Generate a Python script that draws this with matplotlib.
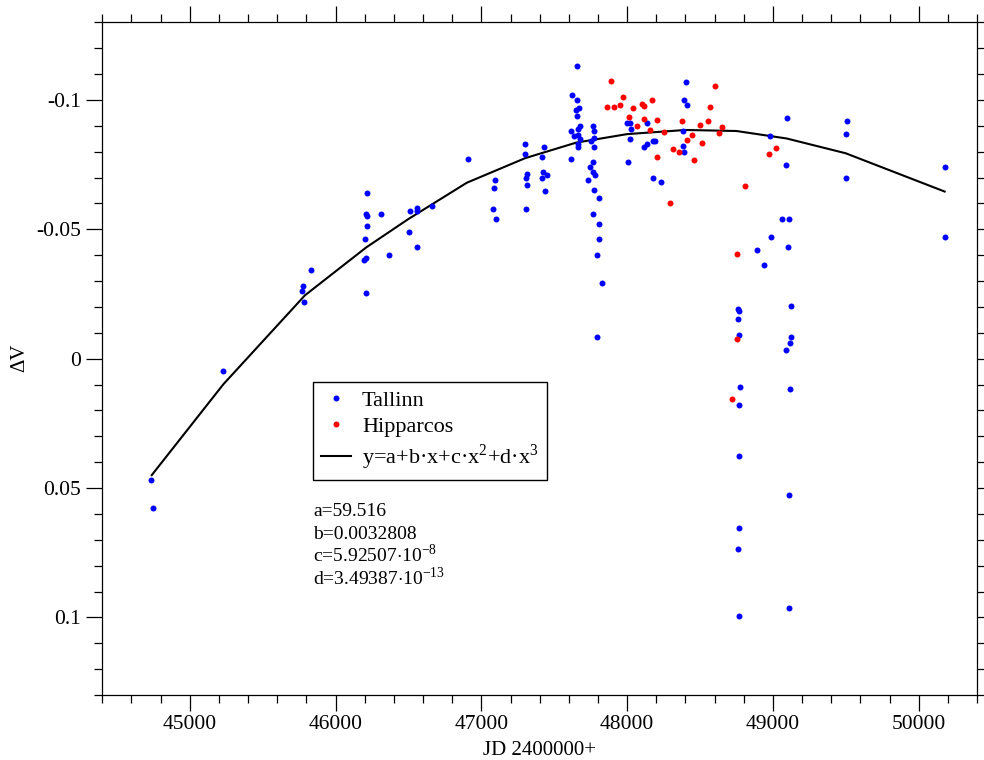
import matplotlib
matplotlib.use("Agg")
import matplotlib.pyplot as plt
from matplotlib.ticker import MultipleLocator, FuncFormatter

plt.rcParams["font.family"] = ["Liberation Serif", "DejaVu Serif"]
plt.rcParams["mathtext.fontset"] = "custom"
plt.rcParams["mathtext.rm"] = "Liberation Serif"
plt.rcParams["axes.unicode_minus"] = False

# Tallinn observations (JD - 2400000, delta V)
tallinn_jd = [44737, 44746, 45228, 45770, 45777, 45784, 45834, 46193, 46205, 46209,
              46211, 46211, 46218, 46218, 46218, 46312, 46365, 46506, 46511, 46557,
              46557, 46559, 46660, 46907, 47082, 47089, 47092, 47099, 47302, 47302,
              47306, 47309, 47311, 47311, 47414, 47414, 47421, 47432, 47439, 47451,
              47615, 47615, 47622, 47638, 47647, 47654, 47656, 47656, 47661, 47665,
              47665, 47665, 47672, 47675, 47677, 47734, 47745, 47752, 47764, 47768,
              47768, 47768, 47773, 47775, 47775, 47775, 47780, 47794, 47794, 47805,
              47805, 47809, 47826, 48001, 48004, 48018, 48020, 48025, 48118, 48137,
              48137, 48176, 48180, 48191, 48230, 48383, 48385, 48392, 48392, 48406,
              48409, 48759, 48761, 48763, 48765, 48765, 48767, 48767, 48770, 48770,
              48772, 48889, 48937, 48978, 48989, 49064, 49088, 49090, 49097, 49104,
              49108, 49112, 49112, 49117, 49119, 49124, 49126, 49499, 49499, 49506,
              50178, 50180]
tallinn_dv = [0.0467, 0.0577, 0.0048, -0.0261, -0.0282, -0.0221, -0.0342, -0.0381, -0.0462, -0.0561,
              -0.0391, -0.0252, -0.0641, -0.0551, -0.0511, -0.0561, -0.0402, -0.0491, -0.0570, -0.0583,
              -0.0570, -0.0431, -0.0592, -0.0771, -0.0580, -0.0660, -0.0691, -0.0541, -0.0830, -0.0790,
              -0.0580, -0.0700, -0.0712, -0.0670, -0.0780, -0.0700, -0.0720, -0.0820, -0.0650, -0.0710,
              -0.0880, -0.0771, -0.1019, -0.0860, -0.0961, -0.1130, -0.1000, -0.0939, -0.0820, -0.0888,
              -0.0866, -0.0831, -0.0969, -0.0901, -0.0851, -0.0690, -0.0740, -0.0840, -0.0900, -0.0761,
              -0.0720, -0.0561, -0.0880, -0.0852, -0.0820, -0.0651, -0.0710, -0.0402, -0.0082, -0.0620,
              -0.0461, -0.0521, -0.0291, -0.0911, -0.0761, -0.0851, -0.0911, -0.0889, -0.0820, -0.0910,
              -0.0829, -0.0700, -0.0840, -0.0840, -0.0681, -0.0879, -0.0821, -0.1000, -0.0800, -0.1070,
              -0.0979, -0.0152, -0.0193, 0.0736, 0.0178, 0.0656, -0.0093, 0.0377, -0.0183, 0.0995,
              0.0108, -0.0421, -0.0361, -0.0860, -0.0471, -0.0541, -0.0750, -0.0032, -0.0929, -0.0431,
              -0.0541, 0.0527, 0.0965, 0.0119, -0.0062, -0.0202, -0.0082, -0.0870, -0.0700, -0.0920,
              -0.0740, -0.0471]

# Hipparcos observations
hipp_jd = [47862, 47888, 47912, 47951, 47972, 48011, 48041, 48066, 48102, 48116,
           48118, 48157, 48171, 48205, 48205, 48255, 48292, 48313, 48356, 48379,
           48409, 48443, 48461, 48500, 48512, 48553, 48571, 48603, 48630, 48653,
           48717, 48752, 48752, 48806, 48973, 49021]
hipp_dv = [-0.0971, -0.1073, -0.0974, -0.0981, -0.1010, -0.0935, -0.0968, -0.0901, -0.0983, -0.0927,
           -0.0975, -0.0883, -0.1000, -0.0924, -0.0778, -0.0878, -0.0603, -0.0811, -0.0800, -0.0917,
           -0.0844, -0.0866, -0.0768, -0.0903, -0.0832, -0.0919, -0.0971, -0.1054, -0.0871, -0.0897,
           0.0154, -0.0403, -0.0078, -0.0666, -0.0792, -0.0816]

# cubic fit, as drawn (vertices)
fit_jd = [44739, 45230, 45790, 46210, 46500, 46900, 47300, 47650, 48000, 48400, 48750, 49095, 49499, 50178]
fit_dv = [0.0450, 0.0099, -0.0245, -0.0430, -0.0540, -0.0680, -0.0775, -0.0835, -0.0868, -0.0884,
          -0.0880, -0.0851, -0.0794, -0.0646]

coef_lines = ["a=59.516", "b=0.0032808", r"c=5.92507$\cdot$10$^{-8}$", r"d=3.49387$\cdot$10$^{-13}$"]

fig = plt.figure(figsize=(9.84, 7.6), dpi=100)
ax = fig.add_axes([0.104, 0.0855, 0.8889, 0.8851])

ax.plot(fit_jd, fit_dv, color="black", lw=1.5, label="y=a+b·x+c·x$^{2}$+d·x$^{3}$", zorder=2)
ax.plot(tallinn_jd, tallinn_dv, "o", color="#0000ff", ms=4.3, mec="none", label="Tallinn", zorder=3)
ax.plot(hipp_jd, hipp_dv, "o", color="#ff0000", ms=4.3, mec="none", label="Hipparcos", zorder=4)

ax.set_xlim(44400, 50400)
ax.set_ylim(0.13, -0.13)
ax.xaxis.set_major_locator(MultipleLocator(1000))
ax.xaxis.set_minor_locator(MultipleLocator(200))
ax.yaxis.set_major_locator(MultipleLocator(0.05))
ax.yaxis.set_minor_locator(MultipleLocator(0.01))


def fmt(v, pos):
    v = round(v, 4)
    if v == 0:
        return "0"
    return "%g" % v


ax.yaxis.set_major_formatter(FuncFormatter(fmt))
ax.tick_params(which="both", direction="out", top=True, right=True, labelsize=15.5, width=0.9)
ax.tick_params(which="major", length=11.5, pad=3)
ax.tick_params(which="minor", length=5.5)
ax.tick_params(axis="y", which="major", pad=4)
for s in ax.spines.values():
    s.set_linewidth(0.9)

handles, labels = ax.get_legend_handles_labels()
order = [1, 2, 0]
leg = ax.legend([handles[i] for i in order], [labels[i] for i in order],
                loc="upper left", bbox_to_anchor=(0.241, 0.465), borderaxespad=0,
                fontsize=16, numpoints=1, fancybox=False, edgecolor="black",
                framealpha=1, handlelength=1.35, handletextpad=0.5,
                borderpad=0.35, labelspacing=0.25)
leg.get_frame().set_linewidth(1.0)

ys = [0.2665, 0.2315, 0.198, 0.1635]
for t, yy in zip(coef_lines, ys):
    ax.text(0.241, yy, t, transform=ax.transAxes, fontsize=14, va="baseline", ha="left")

fig.text(20 / 984, 1 - 358 / 760, "ΔV", rotation=90, ha="center", va="center", fontsize=15)
fig.text(539.5 / 984, 1 - 755 / 760, "JD 2400000+", ha="center", va="baseline", fontsize=15)

fig.savefig("out.png", dpi=100)
